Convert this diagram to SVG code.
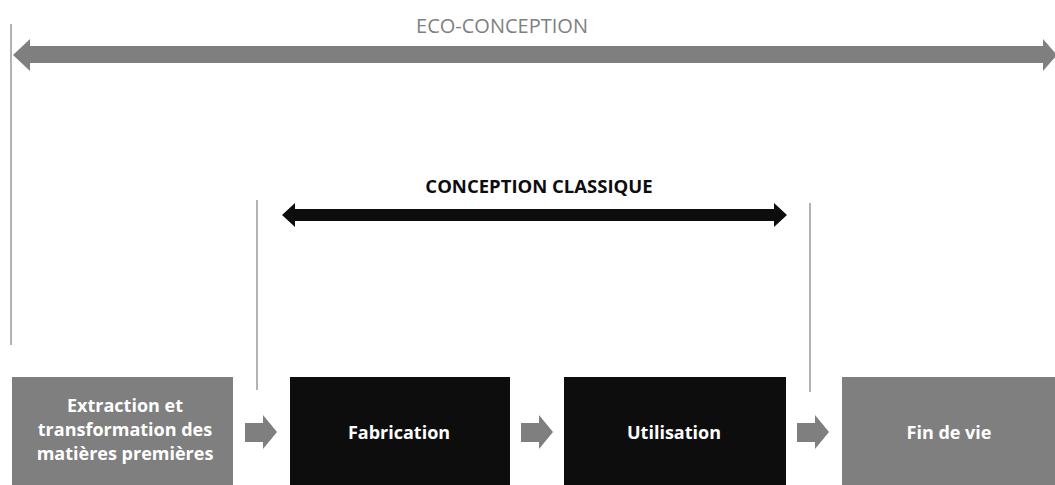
<svg xmlns="http://www.w3.org/2000/svg" width="1055" height="485" viewBox="0 0 1055 485">
<style>
.t{font-family:"Open Sans","Liberation Sans",sans-serif;font-weight:bold;text-anchor:middle}
.w{fill:#ffffff;font-size:18px}
.vl{stroke:#7f7f7f;stroke-width:1.2}
.g{fill:#7f7f7f}
.k{fill:#0d0d0d}
</style>
<rect width="1055" height="485" fill="#ffffff"/>
<g id="connectors">
<line class="vl" x1="11" y1="24" x2="11" y2="345"/>
<line class="vl" x1="257" y1="200" x2="257" y2="390"/>
<line class="vl" x1="810" y1="203" x2="810" y2="392"/>
<polygon class="g" points="13,55 30,39 30,46 1043,46 1043,39 1057,55 1043,71 1043,63 30,63 30,71"/>
<polygon class="k" points="282,215 295,203 295,209 774,209 774,203 787,215 774,227 774,221 295,221 295,227"/>
<polygon class="g" points="245,423 263,423 263,415 277,432 263,449 263,442 245,442"/>
<polygon class="g" points="521,423 539,423 539,415 553,432 539,449 539,442 521,442"/>
<polygon class="g" points="797,423 815,423 815,415 829,432 815,449 815,442 797,442"/>
</g>
<text x="502" y="33" fill="#7f7f7f" font-size="20" font-family="Open Sans, Liberation Sans, sans-serif" text-anchor="middle">ECO-CONCEPTION</text>
<text class="t" x="539" y="193" fill="#0d0d0d" font-size="18.5">CONCEPTION CLASSIQUE</text>
<g id="n1">
<rect class="g" x="12" y="377" width="221" height="108"/>
<text class="t w" x="125" y="412">Extraction et</text>
<text class="t w" x="125" y="436">transformation des</text>
<text class="t w" x="125" y="460">matières premières</text>
</g>
<g id="n2">
<rect class="k" x="290" y="377" width="220" height="108"/>
<text class="t w" x="399" y="439">Fabrication</text>
</g>
<g id="n3">
<rect class="k" x="564" y="377" width="222" height="108"/>
<text class="t w" x="674" y="439">Utilisation</text>
</g>
<g id="n4">
<rect class="g" x="842" y="377" width="213" height="108"/>
<text class="t w" x="949" y="439">Fin de vie</text>
</g>
</svg>
